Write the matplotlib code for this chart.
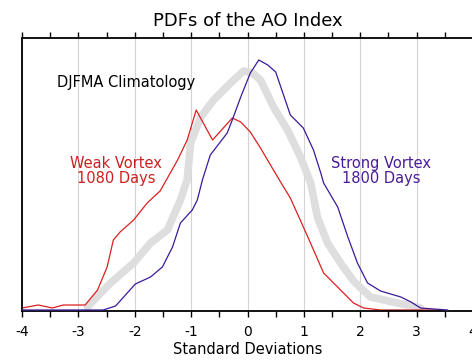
import numpy as np
from matplotlib import pyplot as plt

plt.rcParams['font.family'] = ['DejaVu Sans']
plt.rcParams['axes.unicode_minus'] = False

# values (x in standard deviations, y in arbitrary pdf units)
clim_x = [-2.84, -2.43, -2.02, -1.72, -1.42, -1.19, -1.07, -1.01, -0.83, -0.60,
          -0.30, -0.07, 0.09, 0.23, 0.46, 0.71, 0.94, 1.12, 1.24, 1.42,
          1.65, 1.88, 2.18, 2.66, 3.07]
clim_y = [4, 28, 48, 68, 81, 111, 131, 168, 194, 211,
          228, 240, 238, 231, 204, 181, 154, 128, 94, 68,
          48, 30, 14, 8, 3]

weak_x = [-4.0, -3.71, -3.46, -3.27, -2.88, -2.66, -2.49, -2.38, -2.26, -2.02,
          -1.78, -1.55, -1.24, -1.07, -0.91, -0.62, -0.27, -0.12, 0.05, 0.23,
          0.46, 0.64, 0.76, 1.07, 1.35, 1.65, 1.88, 2.06, 2.36, 3.43]
weak_y = [3, 6, 3, 6, 6, 21, 44, 71, 79, 91,
          108, 120, 151, 171, 201, 171, 193, 189, 179, 163,
          141, 124, 113, 74, 38, 21, 8, 3, 1, 1]

strong_x = [-4.0, -2.56, -2.34, -1.99, -1.72, -1.51, -1.33, -1.19, -0.98, -0.89,
            -0.80, -0.66, -0.36, -0.27, -0.12, 0.05, 0.20, 0.36, 0.50, 0.76,
            0.99, 1.17, 1.30, 1.35, 1.60, 1.78, 1.95, 2.13, 2.36, 2.72,
            2.90, 3.07, 3.55]
strong_y = [1, 1, 5, 27, 34, 44, 64, 88, 101, 111,
            131, 156, 178, 191, 214, 238, 251, 246, 239, 196,
            183, 161, 138, 128, 104, 74, 48, 28, 20, 14,
            9, 3, 1]

xticks = [-4, -3, -2, -1, 0, 1, 2, 3, 4]

fig = plt.figure(figsize=(4.72, 3.61), dpi=100)
ax = fig.add_axes([22/472, 50/361, 451/472, 273/361])

for xt in xticks:
    ax.axvline(xt, color='#d4d4d4', lw=0.8, zorder=0)

ax.plot(clim_x, clim_y, color='#dedede', lw=5.5, solid_capstyle='round', zorder=1)
ax.plot(weak_x, weak_y, color='#dd2020', lw=0.9, zorder=2)
ax.plot(strong_x, strong_y, color='#3a1a99', lw=0.9, zorder=3)

ax.set_xlim(-4, 4)
ax.set_ylim(0, 273)
ax.set_xticks(xticks)
ax.set_xticklabels([str(t) for t in xticks], fontsize=10)
ax.set_xticks(np.arange(-4, 4.01, 0.5), minor=True)
ax.tick_params(axis='x', which='both', direction='out', length=4, width=1, pad=6,
               top=True)
ax.tick_params(axis='x', which='minor', length=4)
ax.set_yticks([])
ax.spines['right'].set_visible(False)
for s in ['left', 'bottom', 'top']:
    ax.spines[s].set_linewidth(1.3)

ax.set_title('PDFs of the AO Index', fontsize=13, pad=9)
ax.set_xlabel('Standard Deviations', fontsize=10.5, labelpad=2)

ax.text(-3.38, 229, 'DJFMA Climatology', fontsize=10.5, color='black', va='center')
ax.text(-2.33, 140, 'Weak Vortex\n1080 Days', fontsize=10.5, color='#cc2020',
        ha='center', va='center', linespacing=1.0)
ax.text(2.37, 140, 'Strong Vortex\n1800 Days', fontsize=10.5, color='#4a1a99',
        ha='center', va='center', linespacing=1.0)

plt.savefig('out.png', dpi=100)
